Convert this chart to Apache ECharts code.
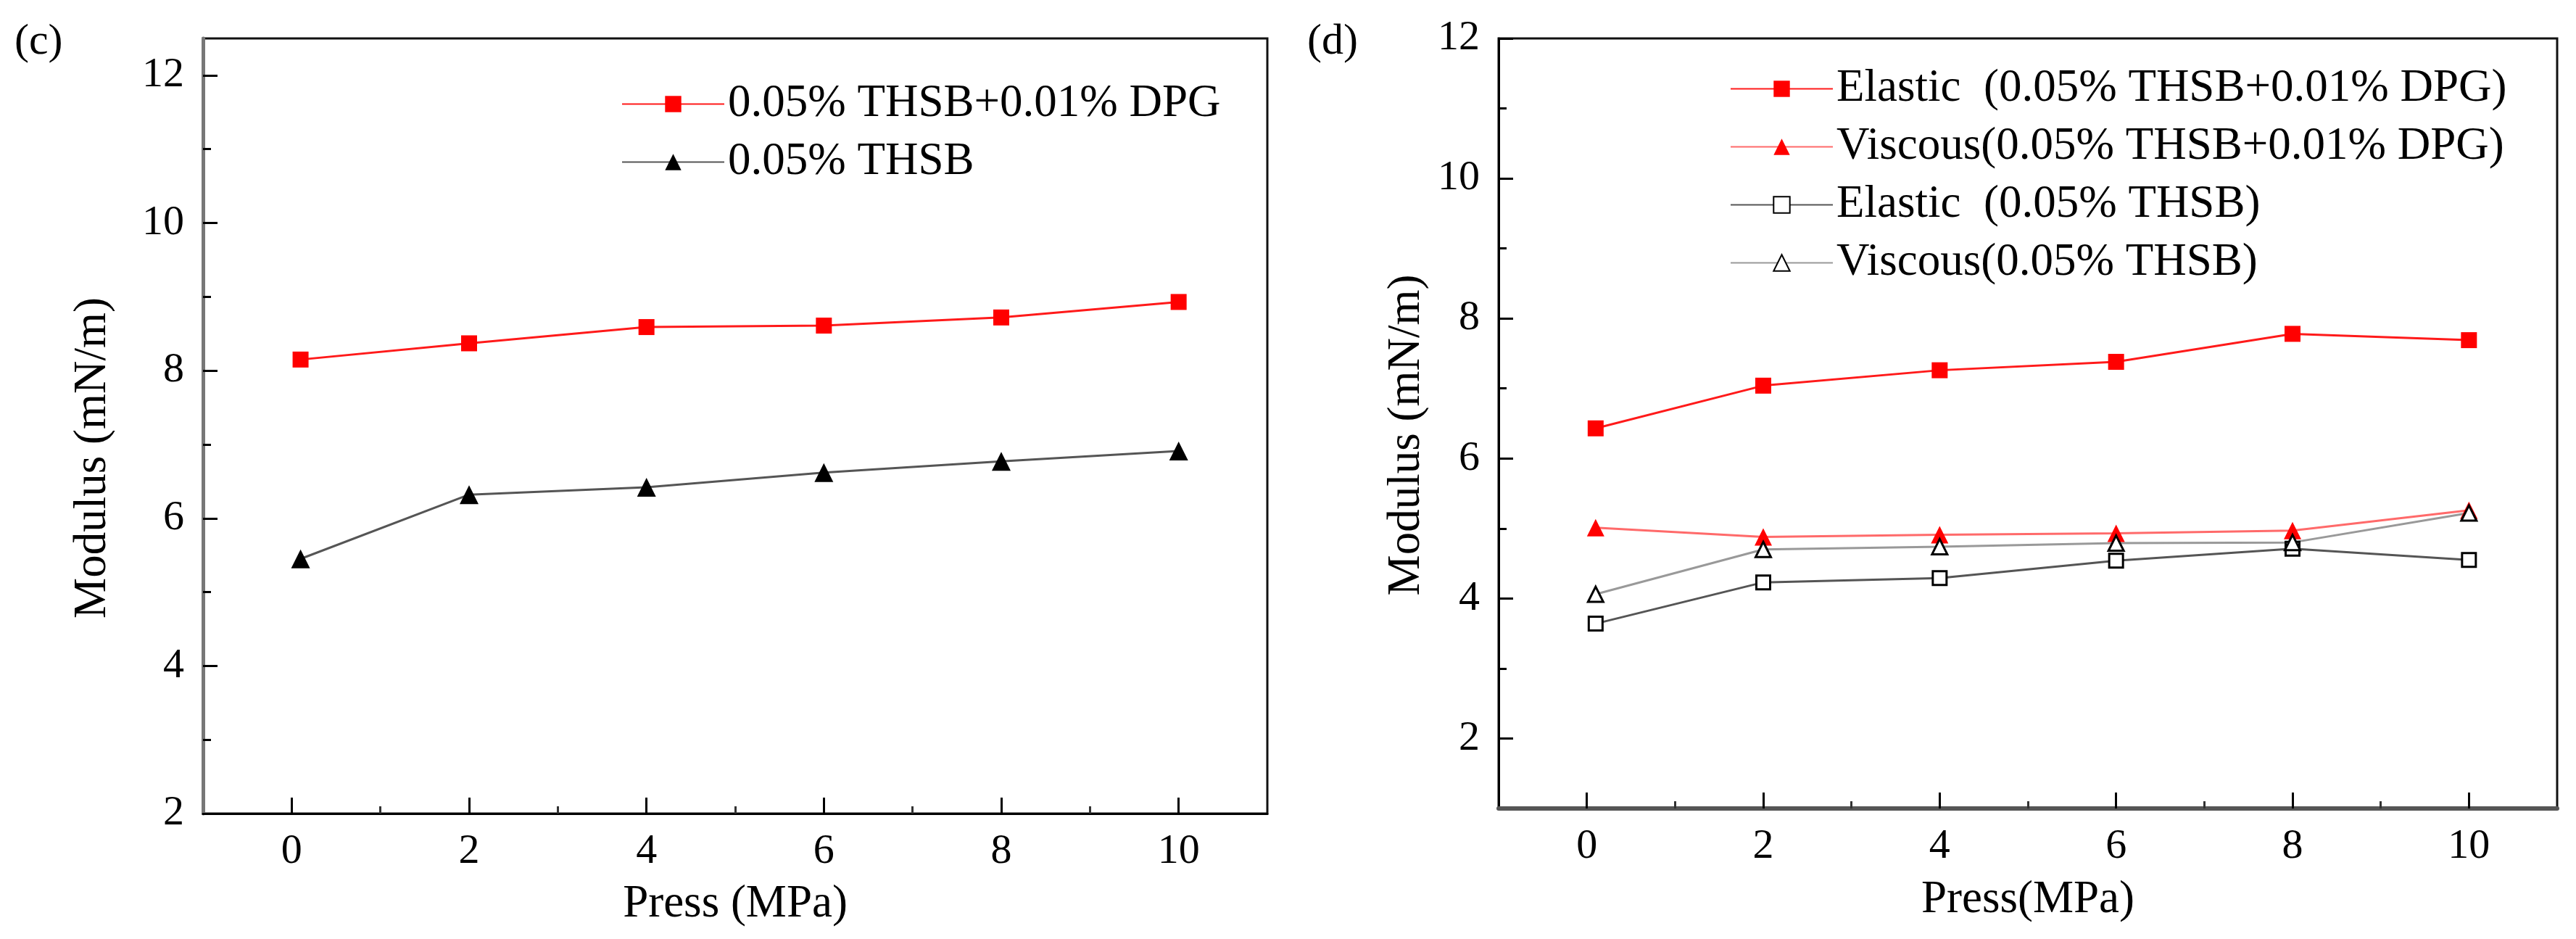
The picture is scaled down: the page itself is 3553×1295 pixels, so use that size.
<!DOCTYPE html>
<html>
<head>
    <meta charset="utf-8">
    <title>Modulus vs Press</title>
    <script src="https://cdn.jsdelivr.net/npm/echarts@6/dist/echarts.min.js"></script>
    <style>
        html, body { margin: 0; padding: 0; background: #fff; }
        #main { width: 3553px; height: 1295px; }
    </style>
</head>
<body>
    <div id="main"></div>
    <script type="text/javascript">
    // pressure (MPa), first point sits just right of 0
    var press = [0.1, 2, 4, 6, 8, 10];

    // panel (c)
    var cDpg  = [8.15, 8.37, 8.59, 8.61, 8.72, 8.93];
    var cThsb = [5.45, 6.32, 6.42, 6.62, 6.77, 6.91];

    // panel (d)
    var dElasticDpg  = [6.43, 7.04, 7.26, 7.38, 7.78, 7.69];
    var dViscousDpg  = [5.01, 4.88, 4.91, 4.93, 4.97, 5.26];
    var dElasticThsb = [3.64, 4.23, 4.29, 4.54, 4.71, 4.55];
    var dViscousThsb = [4.06, 4.70, 4.74, 4.79, 4.80, 5.22];

    var xMajor = [0, 2, 4, 6, 8, 10];
    var xMinor = [1, 3, 5, 7, 9];
    var yMajor = [2, 4, 6, 8, 10, 12];
    var yMinor = [3, 5, 7, 9, 11];

    var FONT = 'Liberation Serif';

    function pairs(ys) {
        return press.map(function (x, i) { return [x, ys[i]]; });
    }

    function xAxes(grid, lineColor, lineWidth, title, gap) {
        return [{
            gridIndex: grid, type: 'value', min: -1, max: 11, position: 'bottom',
            name: title, nameLocation: 'middle', nameGap: gap,
            nameTextStyle: { fontFamily: FONT, fontSize: 63, color: '#000' },
            axisLine: { show: true, onZero: false, lineStyle: { color: lineColor, width: lineWidth } },
            axisTick: { show: true, inside: true, length: 22, customValues: xMajor,
                        lineStyle: { color: '#000', width: 3 } },
            axisLabel: { show: true, customValues: xMajor, margin: 24,
                         fontFamily: FONT, fontSize: 58, color: '#000' },
            splitLine: { show: false }
        }, {
            gridIndex: grid, type: 'value', min: -1, max: 11, position: 'bottom',
            axisLine: { show: false, onZero: false },
            axisTick: { show: true, inside: true, length: 10, customValues: xMinor,
                        lineStyle: { color: '#333', width: 3 } },
            axisLabel: { show: false },
            splitLine: { show: false }
        }];
    }

    function yAxes(grid, ymin, ymax, lineColor, lineWidth, gap, shift) {
        return [{
            gridIndex: grid, type: 'value', min: ymin, max: ymax, position: 'left',
            name: 'Modulus (mN/m)', nameLocation: 'middle', nameGap: gap,
            nameTextStyle: { fontFamily: FONT, fontSize: 63, color: '#000', padding: [0, shift, 0, 0] },
            axisLine: { show: true, onZero: false, lineStyle: { color: lineColor, width: lineWidth } },
            axisTick: { show: true, inside: true, length: 20, customValues: yMajor,
                        lineStyle: { color: '#000', width: 3 } },
            axisLabel: { show: true, customValues: yMajor, margin: 26,
                         fontFamily: FONT, fontSize: 58, color: '#000' },
            splitLine: { show: false }
        }, {
            gridIndex: grid, type: 'value', min: ymin, max: ymax, position: 'left',
            axisLine: { show: false, onZero: false },
            axisTick: { show: true, inside: true, length: 11, customValues: yMinor,
                        lineStyle: { color: '#000', width: 3 } },
            axisLabel: { show: false },
            splitLine: { show: false }
        }];
    }

    function line(name, xi, yi, ys, symbol, size, lineColor, fill, border) {
        return {
            name: name, type: 'line', xAxisIndex: xi, yAxisIndex: yi,
            data: pairs(ys), symbol: symbol, symbolSize: size, showSymbol: true,
            lineStyle: { color: lineColor, width: 3 },
            itemStyle: { color: fill, borderColor: border, borderWidth: border === fill ? 0 : 3 },
            z: 3
        };
    }

    var legendText = { fontFamily: FONT, fontSize: 63, color: '#000', lineHeight: 62 };

    var myChart = echarts.init(document.getElementById('main'));

    var option = {
        backgroundColor: '#fff',
        animation: false,
        grid: [
            { left: 280, top: 53, width: 1468, height: 1069, show: true,
              borderColor: '#111', borderWidth: 3, backgroundColor: 'transparent' },
            { left: 2067, top: 53, width: 1460, height: 1062, show: true,
              borderColor: '#111', borderWidth: 3, backgroundColor: 'transparent' }
        ],
        xAxis: xAxes(0, '#000', 3, 'Press (MPa)', 94)
            .concat(xAxes(1, '#555', 6, 'Press(MPa)', 95)),
        yAxis: yAxes(0, 2, 12.5, '#777', 5, 120, 88)
            .concat(yAxes(1, 1, 12, '#000', 3, 95, 32)),
        legend: [{
            data: ['0.05% THSB+0.01% DPG', '0.05% THSB'],
            left: 852, top: 107, orient: 'vertical',
            itemWidth: 141, itemHeight: 28, itemGap: 17,
            textStyle: legendText, selectedMode: false
        }, {
            data: ['Elastic  (0.05% THSB+0.01% DPG)', 'Viscous(0.05% THSB+0.01% DPG)',
                   'Elastic  (0.05% THSB)', 'Viscous(0.05% THSB)'],
            left: 2381, top: 86, orient: 'vertical',
            itemWidth: 141, itemHeight: 28, itemGap: 17,
            textStyle: legendText, selectedMode: false
        }],
        graphic: [
            { type: 'text', left: 20, top: 28,
              style: { text: '(c)', fontFamily: FONT, fontSize: 60, fill: '#000' } },
            { type: 'text', left: 1803, top: 28,
              style: { text: '(d)', fontFamily: FONT, fontSize: 60, fill: '#000' } }
        ],
        series: [
            line('0.05% THSB+0.01% DPG', 0, 0, cDpg, 'rect', 22, '#ff1a1a', '#ff0000', '#ff0000'),
            line('0.05% THSB', 0, 0, cThsb, 'triangle', 26, '#555', '#000', '#000'),
            line('Elastic  (0.05% THSB+0.01% DPG)', 2, 2, dElasticDpg, 'rect', 22, '#ff1a1a', '#ff0000', '#ff0000'),
            line('Viscous(0.05% THSB+0.01% DPG)', 2, 2, dViscousDpg, 'triangle', 24, '#ff6a6a', '#ff0000', '#ff0000'),
            line('Elastic  (0.05% THSB)', 2, 2, dElasticThsb, 'rect', 19, '#555', '#fff', '#000'),
            line('Viscous(0.05% THSB)', 2, 2, dViscousThsb, 'triangle', 21, '#999', '#fff', '#000')
        ]
    };

    myChart.setOption(option);
    </script>
</body>
</html>
